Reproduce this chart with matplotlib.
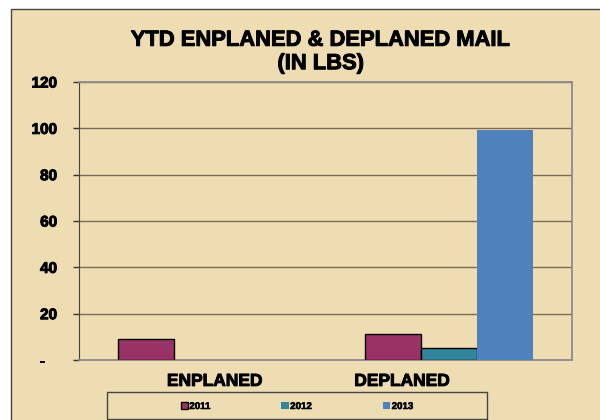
import matplotlib
matplotlib.use('Agg')

import numpy as np
import matplotlib.pyplot as plt
import matplotlib.patheffects as pe
from matplotlib.patches import Rectangle

categories = ['ENPLANED', 'DEPLANED']
years = ['2011', '2012', '2013']
mail_2011 = [9.1, 11.2]
mail_2012 = [0, 5.2]
mail_2013 = [0, 99.3]
yticks = [0, 20, 40, 60, 80, 100, 120]
ytick_labels = ['-   ', '20', '40', '60', '80', '100', '120']

plt.rcParams['font.family'] = ['Liberation Sans', 'DejaVu Sans']
plt.rcParams['font.weight'] = 'bold'

W, H = 600, 420
fig = plt.figure(figsize=(6, 4.2), dpi=100)
fig.patch.set_facecolor('white')

# heavier strokes, like the office-style bold text
heavy = [pe.withStroke(linewidth=0.7, foreground='black')]

# parchment panel, open at right and bottom
panel = Rectangle((11 / W, -0.05), 1.1, 1 - 9 / H + 0.05, transform=fig.transFigure,
                  facecolor='#EEDDB3', edgecolor='#444444', linewidth=1.0, zorder=-10)
fig.patches.append(panel)

ax = fig.add_axes([79 / W, 1 - 360 / H, 493 / W, 278 / H])
ax.set_facecolor('none')

x = np.arange(len(categories))
w = 0.227
ax.bar(x - w, mail_2011, w, color='#993366', edgecolor='black', linewidth=1.0, label=years[0], zorder=3)
ax.bar(x, mail_2012, w, color='#31869B', edgecolor='black',
       linewidth=[1.0 if v > 0 else 0 for v in mail_2012], label=years[1], zorder=3)
ax.bar(x + w, mail_2013, w, color='#4F81BD', edgecolor='none', label=years[2], zorder=3)

ax.set_xlim(-0.5, 1.5)
ax.set_ylim(0, 120)
ax.set_yticks(yticks)
ax.set_yticklabels(ytick_labels, fontsize=11, fontweight='bold')
# category labels sit left of the group centres in the original
ax.set_xticks(x + np.array([0.05, -0.19]))
ax.set_xticklabels(categories, fontsize=12.5, fontweight='bold')
for t in ax.get_xticklabels() + ax.get_yticklabels():
    t.set_path_effects(heavy)
ax.tick_params(axis='x', length=0, pad=10)
ax.tick_params(axis='y', length=4.3, width=1, direction='out', pad=11.5, color='#333333')
ax.yaxis.grid(True, color='#7a6a55', linewidth=1.0, zorder=1)

for side in ['top', 'right']:
    ax.spines[side].set_color('#8c8c8c')
    ax.spines[side].set_linewidth(1.3)
ax.spines['left'].set_color('#444444')
ax.spines['bottom'].set_color('#8c8c8c')
ax.spines['bottom'].set_linewidth(1.3)

fig.text(321 / W, 1 - 52 / H, 'YTD ENPLANED & DEPLANED MAIL\n(IN LBS)',
         ha='center', va='center', fontsize=15.8, fontweight='bold', linespacing=1.15,
         path_effects=heavy)

# legend frame
fig.patches.append(Rectangle((107 / W, 1 - 419 / H), 380 / W, 27 / H, transform=fig.transFigure,
                             facecolor='none', edgecolor='#444444', linewidth=1.0))
leg = fig.legend(loc='center', bbox_to_anchor=(297 / W, 1 - 406 / H), ncol=3, fontsize=7,
                 frameon=False, handlelength=0.75, handleheight=0.75, handletextpad=0.15,
                 columnspacing=7.3, borderaxespad=0)
for t in leg.get_texts():
    t.set_fontweight('bold')
    t.set_path_effects([pe.withStroke(linewidth=0.4, foreground='black')])

fig.savefig('out.png', dpi=100)
